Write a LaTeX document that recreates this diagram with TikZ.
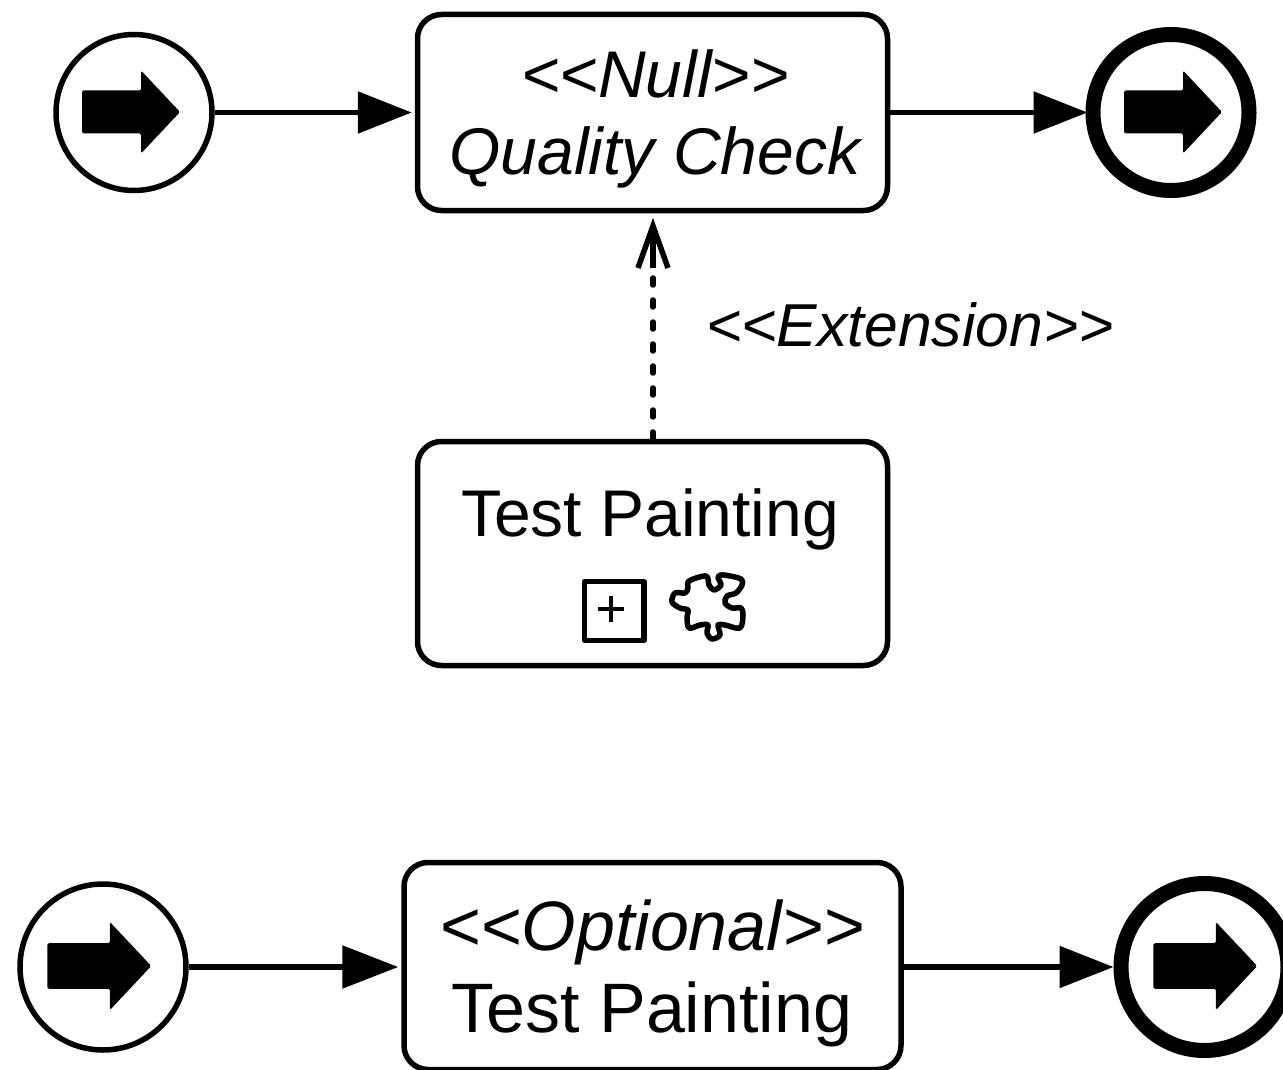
\documentclass[tikz,border=0pt]{standalone}
\usepackage{fontspec}
\setmainfont{Liberation Sans}
\usetikzlibrary{arrows.meta}
\tikzset{
  x=1pt,y=-1pt,
  every picture/.style={line join=round},
  task/.style={draw=black,line width=5.5pt,rounded corners=24pt,fill=white,inner sep=0pt,align=center},
  startev/.style={circle,draw=black,line width=5.5pt,fill=white,inner sep=0pt},
  endev/.style={circle,draw=black,line width=15pt,fill=white,inner sep=0pt},
  flow/.style={draw=black,line width=5.5pt,-{Triangle[length=54pt,width=41pt]},shorten >=3pt},
  ext/.style={draw=black,line width=5.5pt,dash pattern=on 7pt off 15pt,line cap=round},
  opentip/.style={draw=black,line width=5.5pt,line join=miter,line cap=butt},
  evicon/.pic={\fill[black,rounded corners=1.5pt] (-52,-21.5) -- (7,-21.5) -- (7,-41.5) -- (46,0) -- (7,41.5) -- (7,21.5) -- (-52,21.5) -- cycle;},
  bigtxt/.style={font=\fontsize{66}{77.5}\selectfont,inner sep=0pt,align=center},
  bigger/.style={font=\fontsize{70}{82}\selectfont,inner sep=0pt,align=center},
  labeltxt/.style={font=\fontsize{60.6}{70}\itshape\selectfont,inner sep=0pt},
  icon/.style={draw=black,line width=5.5pt}
}
\begin{document}
\begin{tikzpicture}
\useasboundingbox (0,0) rectangle (1283,1070);
\clip (0,0) rectangle (1283,1070);
\node[startev,minimum size=156pt] (s1) at (134,112.5) {};
\node[endev,minimum size=156pt] (e1) at (1171,112.5) {};
\node[task,minimum width=470pt,minimum height=196pt] (nullbox) at (652.5,112.5) {};
\node[bigtxt] (nulltxt) at (655,119) {\itshape <{}<Null>{}>\\\itshape Quality Check};
\node[task,minimum width=497pt,minimum height=207pt] (opt) at (652.5,966) {};
\node[task,minimum width=470pt,minimum height=224pt] (tp) at (652.5,553.5) {};
\node[bigtxt] (tplabel) at (650,519) {Test Painting};
\node[labeltxt] (extlabel) at (910,325) {<{}<Extension>{}>};
\node[startev,minimum size=166pt] (s2) at (103,967) {};
\node[endev,minimum size=167pt] (e2) at (1204.5,967) {};
\node[bigger] (opttxt) at (652,973) {\itshape <{}<Optional>{}>\\Test Painting};
\coordinate (tiptop) at (653,226);
\coordinate (tipbase) at (653,268);
\coordinate (tipl) at (638,268);
\coordinate (tipr) at (668,268);
\coordinate (dotstart) at (653,439);
\coordinate (dotend) at (653,272);
\pic at (134,112) {evicon};
\pic at (1176,112) {evicon};
\pic[scale=1.06] at (102.5,966) {evicon};
\pic[scale=1.06] at (1208.5,966) {evicon};
\draw[flow] (s1) -- (nullbox);
\draw[flow,shorten >=-2pt] (nullbox) -- (e1);
\draw[flow,-{Triangle[length=56pt,width=42pt]}] (s2.east) -- (s2.east -| opt.west);
\draw[flow,shorten >=0pt] (e2.west -| opt.east) -- (e2.west);
\draw[ext] (dotstart) -- (dotend);
\draw[opentip] (tipl) -- (tiptop) -- (tipr);
\draw[opentip] (tiptop) -- (tipbase);
\draw[icon] (584.7,581.7) rectangle (644.2,640.3);
\draw[black,line width=4pt] (598,609) -- (624,609) (611,596) -- (611,622);
\draw[icon,line join=round] plot[smooth cycle,tension=0.55] coordinates {
 (689,581) (706,576) (709,585) (714,590) (721,585) (718,577) (724,575) (741,579) (742,585) (736,593) (727,596) (725,603) (732,608) (741,608) (743,615) (740,628) (725,625) (718,625) (720,635) (712,639) (707,633) (708,625) (700,625) (689,628) (687,617) (688,610) (680,608) (672,602) (675,593) (685,593) (688,588)};
\end{tikzpicture}
\end{document}
